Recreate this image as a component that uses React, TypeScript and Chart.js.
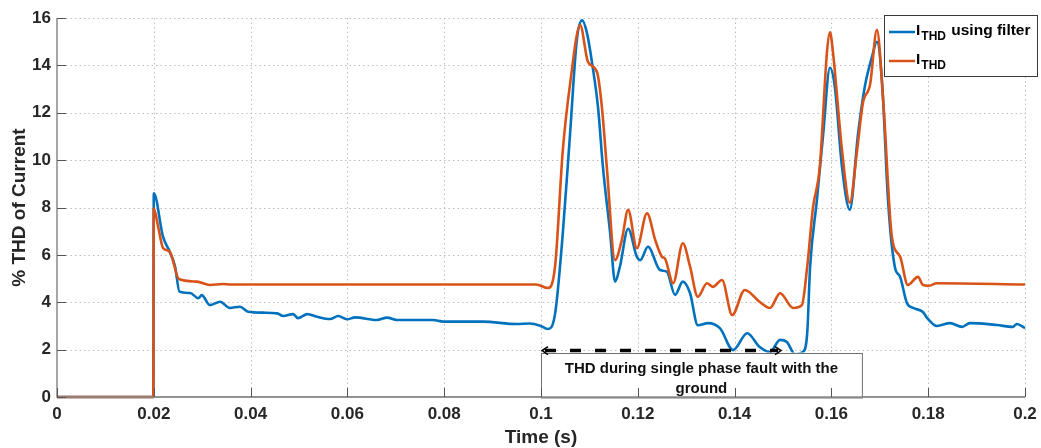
import React, { useEffect, useRef } from "react";
import { Chart, registerables } from "chart.js";
Chart.register(...registerables);

// ---- data (time in s, THD in %) ----
const filteredTime = [0, 0.0199, 0.02, 0.0219, 0.0233, 0.0244, 0.0253, 0.0275, 0.0292, 0.0299, 0.0316, 0.0337, 0.0357, 0.0378, 0.0395, 0.0426, 0.0455, 0.0467, 0.0488, 0.0498, 0.0517, 0.0537, 0.0564, 0.0581, 0.0599, 0.0616, 0.0661, 0.0682, 0.0702, 0.0777, 0.0798, 0.088, 0.095, 0.0977, 0.0998, 0.1014, 0.1029, 0.1045, 0.106, 0.1074, 0.1085, 0.1095, 0.1107, 0.1118, 0.1128, 0.1143, 0.1153, 0.1163, 0.118, 0.1198, 0.1205, 0.1221, 0.1246, 0.126, 0.1277, 0.1293, 0.1308, 0.1324, 0.1345, 0.137, 0.1397, 0.1426, 0.1452, 0.1473, 0.1494, 0.1508, 0.1525, 0.1541, 0.155, 0.1556, 0.157, 0.1583, 0.1597, 0.1607, 0.1622, 0.1638, 0.1655, 0.1669, 0.1684, 0.1694, 0.1705, 0.1717, 0.1731, 0.1742, 0.1756, 0.1769, 0.1789, 0.1798, 0.1818, 0.1845, 0.187, 0.1886, 0.1942, 0.1975, 0.1983, 0.2];
const filteredTHD = [0, 0, 8.6, 6.77, 6.13, 5.5, 4.45, 4.39, 4.17, 4.3, 3.88, 4.02, 3.76, 3.81, 3.6, 3.56, 3.53, 3.42, 3.5, 3.33, 3.5, 3.39, 3.29, 3.42, 3.28, 3.36, 3.25, 3.35, 3.25, 3.25, 3.18, 3.18, 3.08, 3.1, 3.01, 2.87, 3.5, 6.9, 11.1, 15.07, 15.9, 15.36, 13.9, 12.2, 9.7, 6.9, 4.87, 5.5, 7.1, 5.92, 5.78, 6.34, 5.36, 5.29, 4.31, 4.87, 4.38, 3.03, 3.12, 2.9, 1.98, 2.69, 2.11, 1.9, 2.41, 2.32, 1.8, 1.9, 2.69, 5.5, 8.3, 11.1, 13.9, 13.1, 9.7, 7.9, 11.1, 13.1, 14.37, 15.0, 13.2, 8.3, 5.5, 5.07, 3.97, 3.76, 3.59, 3.33, 3.0, 3.12, 2.96, 3.12, 3.04, 2.96, 3.08, 2.91];

const rawTime = [0, 0.0199, 0.02, 0.0209, 0.0219, 0.0233, 0.0252, 0.0289, 0.0316, 0.0343, 0.036, 0.099, 0.1014, 0.1029, 0.1045, 0.106, 0.1081, 0.1097, 0.1116, 0.1126, 0.1136, 0.1153, 0.1167, 0.118, 0.1198, 0.1219, 0.1236, 0.125, 0.1256, 0.1273, 0.1293, 0.1308, 0.1324, 0.1343, 0.1355, 0.1374, 0.1395, 0.1421, 0.1452, 0.1473, 0.1494, 0.1521, 0.1539, 0.155, 0.1562, 0.1576, 0.1591, 0.1597, 0.1603, 0.1622, 0.1638, 0.1653, 0.1665, 0.168, 0.1694, 0.1707, 0.1725, 0.1742, 0.1758, 0.1779, 0.1789, 0.18, 0.1818, 0.2];
const rawTHD = [0, 0, 7.96, 7.19, 6.29, 6.13, 4.98, 4.87, 4.73, 4.77, 4.75, 4.75, 4.6, 5.5, 10.4, 13.2, 15.7, 14.15, 13.7, 12.2, 9.7, 5.78, 6.63, 7.9, 6.28, 7.76, 6.63, 5.92, 5.85, 4.8, 6.49, 5.5, 4.23, 4.8, 4.65, 4.94, 3.46, 4.52, 4.01, 3.76, 4.38, 3.76, 3.88, 5.5, 8.0, 9.7, 14.6, 15.4, 14.6, 10.4, 8.2, 10.4, 12.4, 13.2, 15.5, 12.5, 6.76, 5.92, 4.73, 5.07, 4.73, 4.69, 4.8, 4.75];

const xTicks = [0, 0.02, 0.04, 0.06, 0.08, 0.1, 0.12, 0.14, 0.16, 0.18, 0.2];
const yTicks = [0, 2, 4, 6, 8, 10, 12, 14, 16];

const legendMain = ["I", "I"];
const legendSub = ["THD", "THD"];
const legendTail = [" using filter", ""];
const xTitle = "Time (s)";
const yTitle = "% THD of Current";
const noteLines = ["THD during single phase fault with the", "ground"];
const faultStart = 0.1;
const faultEnd = 0.1498;
const arrowLevel = 1.92;

const BLUE = "#0072BD";
const ORANGE = "#D95319";
const FONT = '"Liberation Sans", Arial, Helvetica, sans-serif';

const decorPlugin = {
  id: "decor",
  beforeDatasetsDraw(chart: any) {
    const { ctx, chartArea: a, scales } = chart;
    const x = scales.x, y = scales.y;
    ctx.save();
    ctx.strokeStyle = "#bdbdbd";
    ctx.lineWidth = 1;
    ctx.setLineDash([1.5, 3]);
    for (const v of xTicks) {
      if (v === 0) continue;
      const px = Math.round(x.getPixelForValue(v)) + 0.5;
      ctx.beginPath(); ctx.moveTo(px, a.top); ctx.lineTo(px, a.bottom); ctx.stroke();
    }
    for (const v of yTicks) {
      if (v === 0) continue;
      const py = Math.round(y.getPixelForValue(v)) + 0.5;
      ctx.beginPath(); ctx.moveTo(a.left, py); ctx.lineTo(a.right, py); ctx.stroke();
    }
    ctx.setLineDash([]);
    ctx.strokeStyle = "#8a8a8a";
    ctx.lineWidth = 1.5;
    ctx.beginPath(); ctx.moveTo(a.left, a.top); ctx.lineTo(a.left, a.bottom); ctx.lineTo(a.right, a.bottom); ctx.stroke();
    ctx.restore();
  },
  afterDatasetsDraw(chart: any) {
    const { ctx, chartArea: a, scales } = chart;
    const x = scales.x, y = scales.y;
    ctx.save();
    // annotation text box
    const bx1 = x.getPixelForValue(faultStart);
    const bx2 = x.getPixelForValue(0.1663);
    const by1 = y.getPixelForValue(arrowLevel) + 1;
    ctx.fillStyle = "#ffffff";
    ctx.fillRect(bx1, by1, bx2 - bx1, a.bottom - by1);
    ctx.strokeStyle = "#707070";
    ctx.lineWidth = 1;
    ctx.strokeRect(Math.round(bx1) + 0.5, Math.round(by1) + 0.5, bx2 - bx1, a.bottom - by1);
    ctx.fillStyle = "#111";
    ctx.font = `bold 15px ${FONT}`;
    ctx.textAlign = "center";
    ctx.textBaseline = "alphabetic";
    const cx = (bx1 + bx2) / 2;
    ctx.fillText(noteLines[0], cx, by1 + 20);
    ctx.fillText(noteLines[1], cx, by1 + 40);

    // axis lines and inside ticks
    ctx.strokeStyle = "#8a8a8a";
    ctx.lineWidth = 1.5;
    ctx.beginPath(); ctx.moveTo(a.left, a.bottom); ctx.lineTo(a.right, a.bottom); ctx.stroke();
    ctx.lineWidth = 1;
    ctx.strokeStyle = "#555";
    for (const v of xTicks) {
      const px = Math.round(x.getPixelForValue(v)) + 0.5;
      ctx.beginPath(); ctx.moveTo(px, a.bottom); ctx.lineTo(px, a.bottom - 9); ctx.stroke();
    }
    for (const v of yTicks) {
      const py = Math.round(y.getPixelForValue(v)) + 0.5;
      ctx.beginPath(); ctx.moveTo(a.left, py); ctx.lineTo(a.left + 9, py); ctx.stroke();
    }

    // double arrow
    const ax1 = x.getPixelForValue(faultStart);
    const ax2 = x.getPixelForValue(faultEnd);
    const ay = y.getPixelForValue(arrowLevel) - 1;
    ctx.strokeStyle = "#000";
    ctx.lineWidth = 3.5;
    ctx.setLineDash([11, 14]);
    ctx.beginPath(); ctx.moveTo(ax1 + 4, ay); ctx.lineTo(ax2 - 4, ay); ctx.stroke();
    ctx.setLineDash([]);
    ctx.lineWidth = 1.5;
    ctx.beginPath(); ctx.moveTo(ax1 + 7, ay - 4); ctx.lineTo(ax1 + 1, ay); ctx.lineTo(ax1 + 7, ay + 4); ctx.stroke();
    ctx.beginPath(); ctx.moveTo(ax2 - 7, ay - 4); ctx.lineTo(ax2 - 1, ay); ctx.lineTo(ax2 - 7, ay + 4); ctx.stroke();

    // legend
    const lx = 884, ly = 15, lw = 153, lh = 61;
    ctx.fillStyle = "#ffffff";
    ctx.fillRect(lx, ly, lw, lh);
    ctx.strokeStyle = "#3a3a3a";
    ctx.lineWidth = 1;
    ctx.strokeRect(lx + 0.5, ly + 0.5, lw, lh);
    const colors = [BLUE, ORANGE];
    const rows = [32, 61];
    ctx.textAlign = "left";
    for (let i = 0; i < 2; i++) {
      const ry = rows[i];
      ctx.strokeStyle = colors[i];
      ctx.lineWidth = 2.5;
      ctx.beginPath(); ctx.moveTo(889, ry); ctx.lineTo(915, ry); ctx.stroke();
      ctx.fillStyle = "#000";
      ctx.font = `bold 15.5px ${FONT}`;
      ctx.fillText(legendMain[i], 916, ry + 3);
      const w1 = ctx.measureText(legendMain[i]).width;
      ctx.font = `bold 12px ${FONT}`;
      ctx.fillText(legendSub[i], 916 + w1 + 1, ry + 8);
      const w2 = ctx.measureText(legendSub[i]).width;
      ctx.font = `bold 15.5px ${FONT}`;
      ctx.fillText(legendTail[i], 916 + w1 + 1 + w2 + 1, ry + 3);
    }
    ctx.restore();
  },
};

export default function App() {
  const ref = useRef<HTMLCanvasElement | null>(null);
  useEffect(() => {
    if (!ref.current) return;
    const chart = new Chart(ref.current, {
      type: "line",
      data: {
        datasets: [
          {
            label: "I_THD",
            data: rawTime.map((t, i) => ({ x: t, y: rawTHD[i] })),
            borderColor: ORANGE,
            borderWidth: 2.6,
            pointRadius: 0,
            cubicInterpolationMode: "monotone",
            clip: false as any,
          },
          {
            label: "I_THD using filter",
            data: filteredTime.map((t, i) => ({ x: t, y: filteredTHD[i] })),
            borderColor: BLUE,
            borderWidth: 2.6,
            pointRadius: 0,
            cubicInterpolationMode: "monotone",
            clip: false as any,
          },
        ],
      },
      options: {
        animation: false,
        responsive: false,
        layout: { padding: { top: 18, right: 16, left: 0, bottom: 0 } },
        plugins: { legend: { display: false }, tooltip: { enabled: false } },
        scales: {
          x: {
            type: "linear",
            min: 0,
            max: 0.2,
            afterBuildTicks: (s: any) => { s.ticks = xTicks.map((v) => ({ value: v })); },
            afterFit: (s: any) => { s.height = 51; s.paddingLeft = 0; s.paddingRight = 0; },
            grid: { display: false, drawTicks: false },
            border: { display: false },
            ticks: {
              padding: 7,
              color: "#262626",
              font: { family: FONT, size: 17, weight: "bold" },
              callback: (v: any) => String(Number(Number(v).toFixed(2))),
              maxRotation: 0,
              autoSkip: false,
            },
            title: {
              display: true,
              text: xTitle,
              color: "#262626",
              font: { family: FONT, size: 19, weight: "bold" },
              padding: { top: 0, bottom: -1 },
            },
          },
          y: {
            min: 0,
            max: 16,
            afterBuildTicks: (s: any) => { s.ticks = yTicks.map((v) => ({ value: v })); },
            afterFit: (s: any) => { s.width = 57; s.paddingTop = 0; s.paddingBottom = 0; },
            grid: { display: false, drawTicks: false },
            border: { display: false },
            ticks: {
              padding: 6,
              color: "#262626",
              font: { family: FONT, size: 17, weight: "bold" },
            },
            title: {
              display: true,
              text: yTitle,
              color: "#262626",
              font: { family: FONT, size: 19, weight: "bold" },
              padding: { top: 8, bottom: 0 },
            },
          },
        },
      },
      plugins: [decorPlugin],
    } as any);
    return () => chart.destroy();
  }, []);
  return (
    <div style={{ position: "fixed", left: 0, top: 0, width: 1041, height: 448, background: "#fff" }}>
      <canvas ref={ref} width={1041} height={448} style={{ display: "block" }} />
    </div>
  );
}
